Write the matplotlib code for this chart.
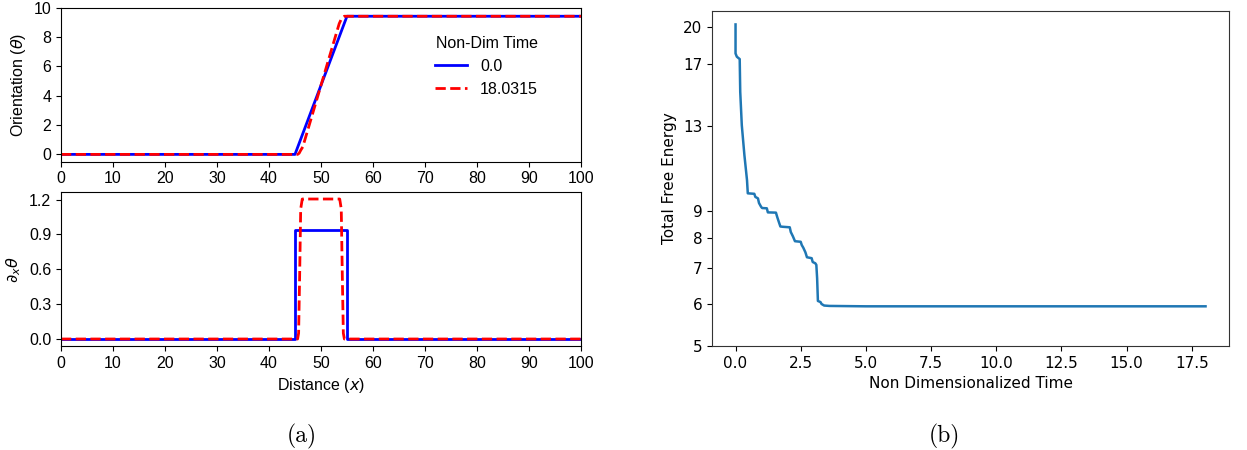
import numpy as np
import matplotlib.pyplot as plt
from matplotlib.ticker import FixedLocator, FixedFormatter, NullLocator

# (a) orientation profiles
dist_t0 = [0, 45, 55, 100]
theta_t0 = [0, 0, 9.42, 9.42]
dist_tend = [0, 45.5, 45.8, 46.1, 46.5, 53.5, 53.9, 54.2, 54.5, 100]
theta_tend = [0, 0, 0.08, 0.28, 0.51, 8.91, 9.22, 9.36, 9.42, 9.42]

# derivative of orientation
ddist_t0 = [0, 45, 45, 55, 55, 100]
dtheta_t0 = [0, 0, 0.942, 0.942, 0, 0]
ddist_tend = [0, 45.5, 45.7, 45.9, 46.1, 46.4, 53.6, 53.9, 54.1, 54.3, 54.5, 100]
dtheta_tend = [0, 0, 0.05, 0.55, 1.12, 1.205, 1.205, 1.12, 0.55, 0.05, 0, 0]

legend_title = "Non-Dim Time"
time_labels = ["0.0", "18.0315"]

# (b) total free energy vs time
time = [0, 0, 0.05, 0.16, 0.18, 0.24, 0.34, 0.44, 0.47, 0.72, 0.76, 0.86, 0.90,
        0.98, 1.02, 1.20, 1.24, 1.55, 1.60, 1.66, 1.72, 1.80, 2.08, 2.12, 2.20,
        2.28, 2.50, 2.54, 2.60, 2.68, 2.74, 2.92, 2.96, 3.06, 3.10, 3.13, 3.16,
        3.26, 3.30, 3.40, 3.6, 5.0, 10.0, 18.0315]
energy = [20.19, 17.80, 17.55, 17.37, 15.07, 13.04, 11.45, 10.27, 9.70, 9.68,
          9.55, 9.49, 9.30, 9.15, 9.10, 9.09, 8.93, 8.92, 8.75, 8.57, 8.40, 8.39,
          8.37, 8.20, 8.05, 7.88, 7.86, 7.75, 7.66, 7.51, 7.35, 7.32, 7.20, 7.16,
          7.11, 6.71, 6.08, 6.05, 6.00, 5.96, 5.95, 5.94, 5.94, 5.94]
energy_ticks = [5, 6, 7, 8, 9, 13, 17, 20]

fig = plt.figure(figsize=(12.47, 4.5), dpi=100)

left_font = 'Liberation Sans'
ax1 = fig.add_axes([0.0489, 0.6406, 0.417, 0.3422])
ax2 = fig.add_axes([0.0489, 0.2311, 0.417, 0.3422])

ax1.plot(dist_t0, theta_t0, color='blue', lw=2, label=time_labels[0])
ax1.plot(dist_tend, theta_tend, color='red', lw=2, ls='--', label=time_labels[1])
ax1.set_xlim(0, 100)
ax1.set_ylim(-0.5, 10)
ax1.set_xticks(np.arange(0, 101, 10))
ax1.set_yticks([0, 2, 4, 6, 8, 10])
ax1.set_ylabel(r"Orientation ($\theta$)", fontsize=11.5, family=left_font)
leg = ax1.legend(title=legend_title, loc='center right', bbox_to_anchor=(0.945, 0.62),
                 frameon=False, prop={'family': left_font, 'size': 11.5},
                 title_fontproperties={'family': left_font, 'size': 11.5})

ax2.plot(ddist_t0, dtheta_t0, color='blue', lw=2)
ax2.plot(ddist_tend, dtheta_tend, color='red', lw=2, ls='--')
ax2.set_xlim(0, 100)
ax2.set_xticks(np.arange(0, 101, 10))
ax2.set_yticks([0.0, 0.3, 0.6, 0.9, 1.2])
ax2.set_xlabel(r"Distance ($x$)", fontsize=11.5, family=left_font)
ax2.set_ylabel(r"$\partial_x\theta$", fontsize=11.5, family=left_font)

for ax in (ax1, ax2):
    ax.tick_params(labelsize=11.5)
    for lbl in ax.get_xticklabels() + ax.get_yticklabels():
        lbl.set_family(left_font)

ax3 = fig.add_axes([0.571, 0.2311, 0.4146, 0.7444])
ax3.plot(time, energy, color='#1f77b4', lw=1.8)
ax3.set_yscale('log')
ax3.set_ylim(5, 21.4)
ax3.yaxis.set_major_locator(FixedLocator(energy_ticks))
ax3.yaxis.set_major_formatter(FixedFormatter([str(v) for v in energy_ticks]))
ax3.yaxis.set_minor_locator(NullLocator())
ax3.set_xlabel("Non Dimensionalized Time", fontsize=11)
ax3.set_ylabel("Total Free Energy", fontsize=11)
ax3.tick_params(labelsize=11)
for s in ax3.spines.values():
    s.set_color('#333333')

fig.text(0.242, 0.031, "(a)", fontsize=17, family='cmr10', ha='center', va='center')
fig.text(0.757, 0.031, "(b)", fontsize=17, family='cmr10', ha='center', va='center')

fig.savefig('out.png', dpi=100)
